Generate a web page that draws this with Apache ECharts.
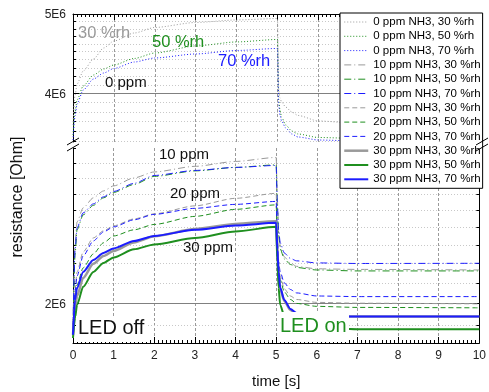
<!DOCTYPE html>
<html><head><meta charset="utf-8">
<script src="https://cdn.jsdelivr.net/npm/echarts@6/dist/echarts.min.js"></script>
<style>html,body{margin:0;padding:0;background:#fff}#c{width:489px;height:392px}</style>
</head><body><div id="c"></div>
<script>
// time axis samples [s]
const time = [0, 0.05, 0.1, 0.25, 0.5, 0.75, 1, 1.5, 2, 3, 4, 5, 5.03, 5.06, 5.1, 5.2, 5.35, 5.5, 6, 7, 10];
// resistance in MOhm
const r0_30  = [3.659, 3.981, 4.106, 4.259, 4.405, 4.544, 4.634, 4.740, 4.814, 4.882, 4.917, 4.937, 4.037, 3.948, 3.903, 3.848, 3.795, 3.758, 3.700, 3.674, 3.674];
const r0_50  = [3.557, 3.795, 3.925, 4.083, 4.211, 4.283, 4.332, 4.412, 4.480, 4.570, 4.622, 4.654, 3.925, 3.816, 3.742, 3.659, 3.597, 3.567, 3.532, 3.522, 3.522];
const r0_70  = [3.507, 3.752, 3.881, 4.037, 4.164, 4.235, 4.289, 4.368, 4.418, 4.468, 4.512, 4.538, 3.870, 3.763, 3.700, 3.628, 3.567, 3.537, 3.507, 3.497, 3.497];
const r10_30 = [1.899, 2.300, 2.431, 2.514, 2.575, 2.618, 2.650, 2.701, 2.740, 2.777, 2.810, 2.837, 2.562, 2.373, 2.294, 2.235, 2.203, 2.185, 2.172, 2.169, 2.166];
const r10_50 = [1.876, 2.246, 2.385, 2.472, 2.529, 2.575, 2.609, 2.659, 2.711, 2.747, 2.770, 2.787, 2.502, 2.356, 2.278, 2.224, 2.195, 2.179, 2.166, 2.161, 2.161];
const r10_70 = [1.885, 2.273, 2.396, 2.484, 2.538, 2.581, 2.615, 2.666, 2.717, 2.750, 2.770, 2.783, 2.532, 2.385, 2.312, 2.256, 2.227, 2.214, 2.203, 2.200, 2.201];
const r20_30 = [1.876, 2.065, 2.156, 2.262, 2.339, 2.379, 2.408, 2.448, 2.478, 2.526, 2.572, 2.603, 2.356, 2.208, 2.135, 2.070, 2.035, 2.018, 2.004, 2.000, 1.997];
const r20_50 = [1.858, 2.016, 2.090, 2.177, 2.251, 2.312, 2.350, 2.385, 2.416, 2.463, 2.505, 2.532, 2.300, 2.177, 2.115, 2.055, 2.018, 1.999, 1.985, 1.980, 1.978];
const r20_70 = [1.867, 2.055, 2.135, 2.240, 2.322, 2.373, 2.402, 2.443, 2.475, 2.511, 2.535, 2.553, 2.328, 2.208, 2.156, 2.100, 2.067, 2.050, 2.035, 2.032, 2.032];
const r30_30 = [1.854, 1.968, 2.035, 2.125, 2.198, 2.240, 2.267, 2.314, 2.348, 2.390, 2.419, 2.434, 2.262, 2.146, 2.070, 2.011, 1.968, 1.949, 1.940, 1.937, 1.937];
const r30_50 = [1.840, 1.931, 1.992, 2.080, 2.156, 2.203, 2.232, 2.276, 2.303, 2.339, 2.376, 2.402, 2.208, 2.075, 1.992, 1.940, 1.912, 1.899, 1.885, 1.879, 1.879];
const r30_70 = [1.854, 2.016, 2.075, 2.156, 2.219, 2.256, 2.281, 2.322, 2.350, 2.385, 2.410, 2.425, 2.273, 2.156, 2.075, 2.016, 1.973, 1.954, 1.942, 1.937, 1.937];

const seriesNames = ['0 ppm NH3, 30 %rh','0 ppm NH3, 50 %rh','0 ppm NH3, 70 %rh',
  '10 ppm NH3, 30 %rh','10 ppm NH3, 50 %rh','10 ppm NH3, 70 %rh',
  '20 ppm NH3, 30 %rh','20 ppm NH3, 50 %rh','20 ppm NH3, 70 %rh',
  '30 ppm NH3, 30 %rh','30 ppm NH3, 50 %rh','30 ppm NH3, 70 %rh'];
const curves = [r0_30, r0_50, r0_70, r10_30, r10_50, r10_70, r20_30, r20_50, r20_70, r30_30, r30_50, r30_70];

// axis ticks
const xTicks = [0, 1, 2, 3, 4, 5, 6, 7, 8, 9, 10];
const yTicksTop = [3.5, 3.6, 3.7, 3.8, 3.9, 4.0, 4.1, 4.2, 4.3, 4.4, 4.5, 4.6, 4.7, 4.8, 4.9, 5.0];
const yMajorTop = [4.0, 5.0];
const yLabelsTop = ['4E6', '5E6'];
const yTicksBottom = [1.9, 2.0, 2.1, 2.2, 2.3, 2.4, 2.5, 2.6, 2.7, 2.8, 2.9];
const yMajorBottom = [2.0];
const yLabelsBottom = ['2E6'];

const colors = ['#9a9a9a', '#1f8f1f', '#1c1cff'];
const dashes = [[1, 2], [7, 3, 1, 3], [5, 3], 'solid'];
const widths = [1, 1, 1, 2];
const FONT = '"Liberation Sans", Arial, sans-serif';

const chart = echarts.init(document.getElementById('c'));

function tickRenderer(majors, labels) {
  return function (params, api) {
    const v = api.value(1);
    const a = api.coord([xTicks[0], v * 1e6]);
    const b = api.coord([xTicks[xTicks.length - 1], v * 1e6]);
    const mi = majors.indexOf(v);
    const major = mi >= 0;
    const y = Math.round(a[1]) + 0.5;
    const children = [];
    if (Math.abs(a[1] - params.coordSys.y) > 1) {
      children.push({type: 'line', shape: {x1: a[0], y1: y, x2: b[0], y2: y},
        style: {stroke: major ? '#808080' : '#c8c8c8', lineWidth: 1, lineDash: major ? null : [1, 2]}});
    }
    children.push({type: 'line', shape: {x1: a[0], y1: y, x2: a[0] + (major ? 6 : 3), y2: y}, style: {stroke: '#000', lineWidth: 1}});
    children.push({type: 'line', shape: {x1: b[0] - (major ? 6 : 3), y1: y, x2: b[0], y2: y}, style: {stroke: '#000', lineWidth: 1}});
    if (major) {
      children.push({type: 'text', style: {text: labels[mi], x: a[0] - 7, y: a[1] + 1, align: 'right', verticalAlign: 'middle',
        font: '12px ' + FONT, fill: '#222'}});
    }
    return {type: 'group', children: children};
  };
}

const series = curves.map(function (vals, i) {
  const g = Math.floor(i / 3), h = i % 3;
  return {
    name: seriesNames[i], type: 'line', xAxisIndex: g === 0 ? 0 : 1, yAxisIndex: g === 0 ? 0 : 1,
    data: time.map(function (t, k) { return [t, vals[k] * 1e6]; }),
    showSymbol: false, symbol: 'none', smooth: 0.25, smoothMonotone: 'x',
    lineStyle: {color: colors[h], width: (g === 3 && h === 0) ? 2.5 : widths[g], type: dashes[g]},
    itemStyle: {color: colors[h]},
    z: 3 + g, animation: false
  };
});
series.push({type: 'custom', xAxisIndex: 0, yAxisIndex: 0, z: 1, silent: true, animation: false,
  data: yTicksTop.map(function (v) { return [0, v]; }), renderItem: tickRenderer(yMajorTop, yLabelsTop), clip: false});
series.push({type: 'custom', xAxisIndex: 1, yAxisIndex: 1, z: 1, silent: true, animation: false,
  data: yTicksBottom.map(function (v) { return [0, v]; }), renderItem: tickRenderer(yMajorBottom, yLabelsBottom), clip: false});

const xCommon = {type: 'value', min: xTicks[0], max: xTicks[xTicks.length - 1], interval: 1,
  axisLine: {show: true, lineStyle: {color: '#000', width: 1}},
  axisTick: {show: true, inside: true, length: 6, lineStyle: {color: '#000'}},
  minorTick: {show: true, splitNumber: 10, length: 3, lineStyle: {color: '#000'}},
  splitLine: {show: true, lineStyle: {color: '#9a9a9a', type: [3, 2], width: 1}}};

function yAx(grid, pos, min, max) {
  return {type: 'log', gridIndex: grid, position: pos, min: min, max: max,
    axisLine: {show: true, lineStyle: {color: '#000', width: 1}},
    axisTick: {show: false}, axisLabel: {show: false}, splitLine: {show: false}, minorTick: {show: false}};
}

chart.setOption({
  animation: false,
  backgroundColor: '#fff',
  textStyle: {fontFamily: FONT},
  grid: [
    {left: 73, right: 7, top: 14, height: 128},
    {left: 73, right: 7, top: 148, height: 195}
  ],
  xAxis: [
    Object.assign({}, xCommon, {gridIndex: 0, position: 'top', axisLabel: {show: false}}),
    Object.assign({}, xCommon, {gridIndex: 1, position: 'bottom',
      axisLabel: {show: true, fontSize: 12, color: '#222', margin: 7, fontFamily: FONT},
      name: 'time [s]', nameLocation: 'middle', nameGap: 31,
      nameTextStyle: {fontSize: 15, color: '#111', fontFamily: FONT}})
  ],
  yAxis: [
    yAx(0, 'left', 3.4875e6, 5.0e6),
    yAx(1, 'left', 1.818e6, 2.902e6),
    yAx(0, 'right', 3.4875e6, 5.0e6),
    yAx(1, 'right', 1.818e6, 2.902e6)
  ],
  legend: {
    orient: 'vertical', left: 340, top: 13, padding: [3, 2, 3, 3], itemGap: 2.3,
    itemWidth: 24, itemHeight: 12, backgroundColor: '#fff', borderColor: '#000', borderWidth: 1,
    textStyle: {fontSize: 11.5, color: '#000', fontFamily: FONT},
    itemStyle: {opacity: 0},
    lineStyle: {width: 'inherit'},
    data: seriesNames, selectedMode: false, z: 10
  },
  graphic: [
    {type: 'line', shape: {x1: 67, y1: 145, x2: 79, y2: 138}, style: {stroke: '#000', lineWidth: 1}, z: 20},
    {type: 'line', shape: {x1: 67, y1: 151, x2: 79, y2: 144}, style: {stroke: '#000', lineWidth: 1}, z: 20},
    {type: 'line', shape: {x1: 476, y1: 145, x2: 488, y2: 138}, style: {stroke: '#000', lineWidth: 1}, z: 20},
    {type: 'line', shape: {x1: 476, y1: 151, x2: 488, y2: 144}, style: {stroke: '#000', lineWidth: 1}, z: 20},
    {type: 'text', x: 18, y: 197, rotation: Math.PI / 2, z: 20,
      style: {text: 'resistance [Ohm]', font: '16px ' + FONT, fill: '#111', align: 'center', verticalAlign: 'middle'}},
    {type: 'text', x: 78, y: 33, z: 20, style: {text: '30 %rh', font: '16.5px ' + FONT, fill: '#9a9a9a', verticalAlign: 'middle'}},
    {type: 'text', x: 152, y: 42, z: 20, style: {text: '50 %rh', font: '16.5px ' + FONT, fill: '#1f8f1f', verticalAlign: 'middle'}},
    {type: 'text', x: 218, y: 61, z: 20, style: {text: '70 %rh', font: '16.5px ' + FONT, fill: '#1c1cff', verticalAlign: 'middle'}},
    {type: 'text', x: 105, y: 83, z: 20, style: {text: '0 ppm', font: '15px ' + FONT, fill: '#111', verticalAlign: 'middle'}},
    {type: 'text', x: 159, y: 155, z: 20, style: {text: '10 ppm', font: '15px ' + FONT, fill: '#111', verticalAlign: 'middle'}},
    {type: 'text', x: 170, y: 194, z: 20, style: {text: '20 ppm', font: '15px ' + FONT, fill: '#111', verticalAlign: 'middle'}},
    {type: 'text', x: 183, y: 248, z: 20, style: {text: '30 ppm', font: '15px ' + FONT, fill: '#111', verticalAlign: 'middle'}},
    {type: 'rect', shape: {x: 76, y: 316, width: 72, height: 26}, style: {fill: '#fff'}, z: 19},
    {type: 'text', x: 78, y: 328, z: 20, style: {text: 'LED off', font: '20px ' + FONT, fill: '#111', verticalAlign: 'middle'}},
    {type: 'rect', shape: {x: 280, y: 312, width: 69, height: 30}, style: {fill: '#fff'}, z: 19},
    {type: 'text', x: 280, y: 326, z: 20, style: {text: 'LED on', font: '20px ' + FONT, fill: '#1f8f1f', verticalAlign: 'middle'}}
  ],
  series: series
});
</script></body></html>
